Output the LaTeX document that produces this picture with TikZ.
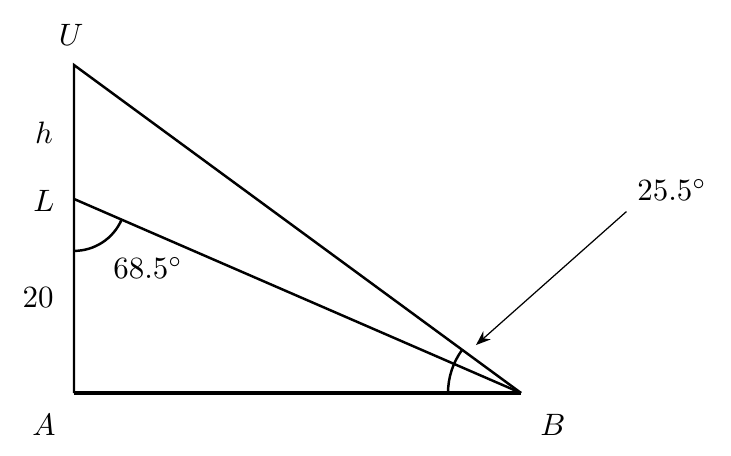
\documentclass[tikz,border=0pt]{standalone}
\usepackage{tikz}
\usetikzlibrary{positioning}
\usetikzlibrary{arrows.meta}
\tikzset{
    side/.style = {thick,draw=black},
    base/.style = {very thick,draw=black},
    anglearc/.style = {thick,draw=black},
    pointer/.style = {thin,draw=black,-Stealth},
    lbl/.style = {inner sep=0.333em}
}
\begin{document}
\begin{tikzpicture}
\useasboundingbox (-0.841,-0.705) rectangle (7.466,4.466);
\coordinate (A) at (0.0, 0.0);
\coordinate (B) at (5.08, 0.0);
\coordinate (U) at (0.0, 3.727);
\coordinate (L) at (0.0, 2.205);
\coordinate (tip) at (4.568, 0.545);
%
\node[lbl] at (-0.034, 4.068) (nU) {$U$};
\node[lbl] at (-0.341, 2.182) (nL) {$L$};
\node[lbl] at (-0.341, 2.955) (nh) {$h$};
\node[lbl] at (-0.409, 1.080) (n20) {$20$};
\node[lbl] at (-0.341,-0.364) (nA) {$A$};
\node[lbl] at ( 5.443,-0.364) (nB) {$B$};
\node[lbl] at ( 0.841, 1.420) (ang68) {$68.5^\circ$};
\node[lbl] at ( 6.795, 2.307) (ang25) {$25.5^\circ$};
%
\draw[side] (A) -- (U) -- (B);
\draw[side] (L) -- (B);
\draw[base] (A) -- (B);
\draw[anglearc] ([shift={(270:0.59)}]L) arc[start angle=270, end angle=336.5, radius=0.59];
\draw[anglearc] ([shift={(180:0.83)}]B) arc[start angle=180, end angle=143.7, radius=0.83];
\draw[pointer] (ang25.south west) -- (tip);
\end{tikzpicture}
\end{document}
